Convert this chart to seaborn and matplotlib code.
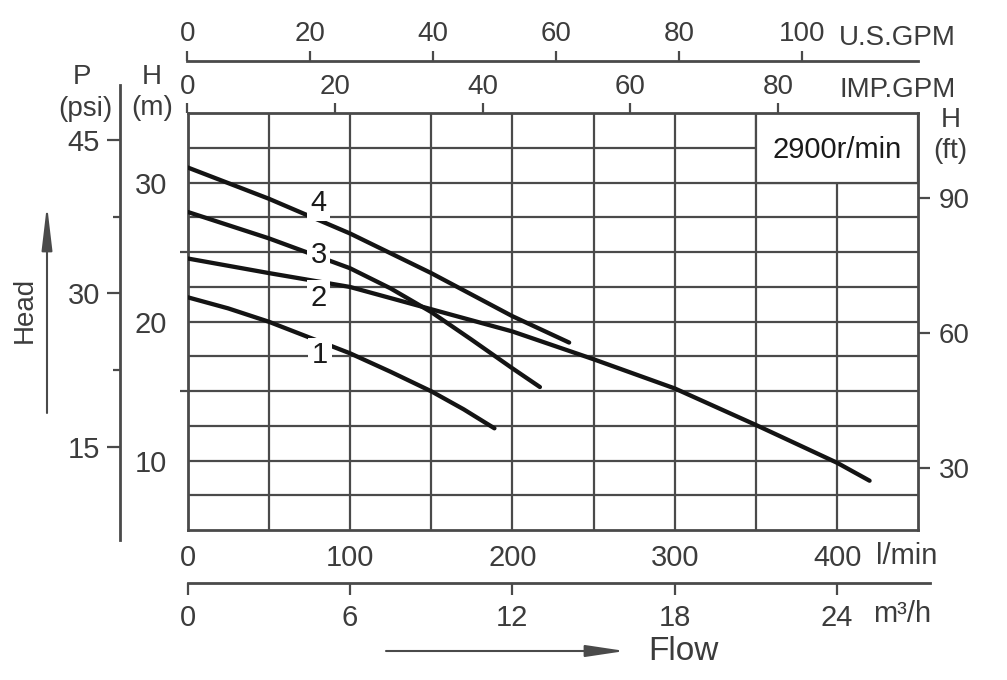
import matplotlib
matplotlib.use("Agg")
import matplotlib.pyplot as plt
from matplotlib.patches import Rectangle
import numpy as np
import pandas as pd
import seaborn as sns

# ── values ───────────────────────────────────────────────────────────────────
CURVE_IDS = ["1", "2", "3", "4"]

FLOW_1 = [0, 25, 50, 100, 125, 150, 170, 189]
HEAD_1 = [21.76, 20.96, 20.0, 17.73, 16.4, 15.0, 13.7, 12.33]

FLOW_2 = [0, 50, 100, 125, 150, 175, 200, 225, 250, 300, 350, 400, 420]
HEAD_2 = [24.55, 23.5, 22.5, 21.7, 20.9, 20.1, 19.3, 18.3, 17.3, 15.2, 12.57, 9.85, 8.56]

FLOW_3 = [0, 50, 100, 125, 150, 175, 200, 217]
HEAD_3 = [27.9, 26.0, 23.85, 22.4, 20.7, 18.7, 16.65, 15.3]

FLOW_4 = [0, 50, 100, 150, 200, 235]
HEAD_4 = [31.1, 28.85, 26.35, 23.5, 20.4, 18.5]

LMIN_TICKS = [0, 100, 200, 300, 400]
M_TICKS = [10, 20, 30]
M_MINOR = [15, 25]
PSI_TICKS = [15, 30, 45]
PSI_MINOR = [22.5, 37.5]
FT_TICKS = [30, 60, 90]
IMP_TICKS = [0, 20, 40, 60, 80]
US_TICKS = [0, 20, 40, 60, 80, 100]
M3H_TICKS = [0, 6, 12, 18, 24]

SPEED_TEXT = "2900r/min"

# unit conversions (as drawn on the chart)
L_PER_IMP = 4.546
L_PER_US = 3.785
M3H_PER_LMIN = 0.06
FT_PER_M, FT_OFFSET = 3.088, 0.82
PSI_RANGE = (5.86, 50.38)

# ── styling ──────────────────────────────────────────────────────────────────
LINE = "#4a4a4a"
TEXT = "#3c3c3c"
CURVE = "#141414"
NARROW = ["Liberation Sans Narrow", "Liberation Sans"]

sns.set_theme(style="white")
plt.rcParams["font.family"] = ["Liberation Sans", "DejaVu Sans"]

W, H = 1007, 680


def fx(px):
    return px / W


def fy(py):
    return 1 - py / H


fig = plt.figure(figsize=(W / 100, H / 100), dpi=100)
fig.patch.set_facecolor("white")

# main axes: l/min vs m
ax = fig.add_axes([fx(187.5), fy(530.2), (918.3 - 187.5) / W, (530.2 - 113.2) / H])
ax.set_xlim(0, 450)
ax.set_ylim(5, 35)
ax.set_facecolor("white")

for v in np.arange(50, 450, 50):
    ax.axvline(v, color=LINE, lw=1.6, zorder=1)
for h in np.arange(7.5, 35, 2.5):
    ax.axhline(h, color=LINE, lw=1.6, zorder=1)

# speed box in the top-right cell
ax.add_patch(Rectangle((350, 30), 100, 5, fc="white", ec=LINE, lw=1.6, zorder=1.5))
ax.text(400, 32.35, SPEED_TEXT, ha="center", va="center", fontsize=21,
        color="#1a1a1a", zorder=2)

# pump curves
df = pd.concat([
    pd.DataFrame({"flow": f, "head": h, "curve": c})
    for c, f, h in zip(CURVE_IDS, [FLOW_1, FLOW_2, FLOW_3, FLOW_4],
                       [HEAD_1, HEAD_2, HEAD_3, HEAD_4])
])
sns.lineplot(data=df, x="flow", y="head", hue="curve", palette=[CURVE] * 4,
             lw=3.1, legend=False, estimator=None, sort=False, ax=ax, zorder=3)

label_x = [81.6, 80.8, 80.8, 80.4]
label_y = [17.6, 21.74, 24.8, 28.52]
for c, lx, ly in zip(CURVE_IDS, label_x, label_y):
    ax.text(lx, ly, c, ha="center", va="center", fontsize=21, color="#1a1a1a",
            zorder=4, bbox=dict(boxstyle="square,pad=0.12", fc="white", ec="none"))

ax.set_xlabel("")
ax.set_ylabel("")
for s in ax.spines.values():
    s.set_color(LINE)
    s.set_linewidth(2.0)

ax.set_xticks(LMIN_TICKS, labels=[str(t) for t in LMIN_TICKS])
ax.set_yticks(M_TICKS, labels=[str(t) for t in M_TICKS])
ax.set_yticks(M_MINOR, minor=True)
ax.tick_params(axis="x", which="major", direction="out", length=7.5, width=1.6,
               color=LINE, labelsize=21, labelcolor=TEXT, pad=2.5)
ax.tick_params(axis="y", which="major", direction="out", length=10.8, width=1.6,
               color=LINE, labelsize=21, labelcolor=TEXT, pad=4)
ax.tick_params(axis="y", which="minor", direction="out", length=5.8, width=1.6,
               color=LINE, left=True)
for lab in ax.get_xticklabels() + ax.get_yticklabels():
    lab.set_family(NARROW)

# top: IMP.GPM (on the frame) and U.S.GPM (raised)
sec_imp = ax.secondary_xaxis("top", functions=(lambda l: l / L_PER_IMP,
                                                lambda g: g * L_PER_IMP))
sec_imp.set_xticks(IMP_TICKS, labels=[str(t) for t in IMP_TICKS])
sec_imp.tick_params(direction="out", length=7.2, width=1.6, color=LINE,
                    labelsize=20, labelcolor=TEXT, pad=2)
sec_imp.spines["top"].set_visible(False)

sec_us = ax.secondary_xaxis((530.2 - 61) / (530.2 - 113.2),
                            functions=(lambda l: l / L_PER_US, lambda g: g * L_PER_US))
sec_us.set_xticks(US_TICKS, labels=[str(t) for t in US_TICKS])
sec_us.tick_params(direction="out", length=7.2, width=1.6, color=LINE,
                   labelsize=20, labelcolor=TEXT, pad=3)
sec_us.spines["top"].set_color(LINE)
sec_us.spines["top"].set_linewidth(2.0)

# right: H (ft)
sec_ft = ax.secondary_yaxis("right", functions=(lambda m: m * FT_PER_M + FT_OFFSET,
                                                 lambda f: (f - FT_OFFSET) / FT_PER_M))
sec_ft.set_yticks(FT_TICKS, labels=[str(t) for t in FT_TICKS])
sec_ft.tick_params(direction="out", length=8.6, width=1.6, color=LINE,
                   labelsize=20, labelcolor=TEXT, pad=6)
sec_ft.spines["right"].set_visible(False)

# left: P (psi) on its own longer spine
ax_psi = fig.add_axes([fx(120), fy(540), 0.0005, (540 - 85) / H])
ax_psi.set_ylim(*PSI_RANGE)
ax_psi.set_facecolor("none")
for k, s in ax_psi.spines.items():
    s.set_visible(k == "left")
ax_psi.spines["left"].set_color(LINE)
ax_psi.spines["left"].set_linewidth(2.0)
ax_psi.set_xticks([])
ax_psi.set_yticks(PSI_TICKS, labels=[str(t) for t in PSI_TICKS])
ax_psi.set_yticks(PSI_MINOR, minor=True)
ax_psi.tick_params(axis="y", which="major", direction="out", length=9.4, width=1.6,
                   color=LINE, labelsize=21, labelcolor=TEXT, pad=5, left=True)
ax_psi.tick_params(axis="y", which="minor", direction="out", length=5.0, width=1.6,
                   color=LINE, left=True)
for lab in ax_psi.get_yticklabels():
    lab.set_family(NARROW)

# bottom: m3/h on its own line
x_end = (930 - 187.5) / 1.624 * M3H_PER_LMIN
ax_m3 = fig.add_axes([fx(187.5), fy(582.5), (930 - 187.5) / W, 0.0005])
ax_m3.set_xlim(0, x_end)
ax_m3.set_facecolor("none")
for k, s in ax_m3.spines.items():
    s.set_visible(k == "bottom")
ax_m3.spines["bottom"].set_color(LINE)
ax_m3.spines["bottom"].set_linewidth(2.0)
ax_m3.set_yticks([])
ax_m3.set_xticks(M3H_TICKS, labels=[str(t) for t in M3H_TICKS])
ax_m3.tick_params(axis="x", direction="out", length=8.6, width=1.6, color=LINE,
                  labelsize=21, labelcolor=TEXT, pad=7, bottom=True)
for lab in ax_m3.get_xticklabels():
    lab.set_family(NARROW)

# unit captions
fig.text(fx(82), fy(77), "P", ha="center", va="center", fontsize=20, color=TEXT)
fig.text(fx(85), fy(109), "(psi)", ha="center", va="center", fontsize=20, color=TEXT)
fig.text(fx(152), fy(77), "H", ha="center", va="center", fontsize=20, color=TEXT)
fig.text(fx(152), fy(108), "(m)", ha="center", va="center", fontsize=20, color=TEXT)
fig.text(fx(951), fy(120), "H", ha="center", va="center", fontsize=20, color=TEXT)
fig.text(fx(950), fy(151), "(ft)", ha="center", va="center", fontsize=20, color=TEXT)
fig.text(fx(839), fy(38), "U.S.GPM", ha="left", va="center", fontsize=20, color=TEXT)
fig.text(fx(839), fy(90), "IMP.GPM", ha="left", va="center", fontsize=20, color=TEXT)
fig.text(fx(876), fy(556), "l/min", ha="left", va="center", fontsize=21, color=TEXT,
         family=NARROW)
fig.text(fx(873), fy(614), "m³/h", ha="left", va="center", fontsize=21, color=TEXT,
         family=NARROW)

# Head / Flow arrows
fig.text(fx(25), fy(310), "Head", ha="center", va="center", rotation=90,
         fontsize=20, color=TEXT)
ax.annotate("", xy=(fx(47), fy(205)), xytext=(fx(47), fy(413)),
            xycoords="figure fraction", textcoords="figure fraction",
            arrowprops=dict(arrowstyle="-|>,head_length=2.7,head_width=0.32",
                            mutation_scale=10, color=LINE, lw=1.5,
                            shrinkA=0, shrinkB=0))
fig.text(fx(648), fy(651), "Flow", ha="left", va="center", fontsize=24, color=TEXT)
ax.annotate("", xy=(fx(625), fy(651)), xytext=(fx(386), fy(651)),
            xycoords="figure fraction", textcoords="figure fraction",
            arrowprops=dict(arrowstyle="-|>,head_length=2.4,head_width=0.36",
                            mutation_scale=10, color=LINE, lw=1.5,
                            shrinkA=0, shrinkB=0))

fig.savefig("out.png", dpi=100, facecolor="white")
plt.close(fig)
